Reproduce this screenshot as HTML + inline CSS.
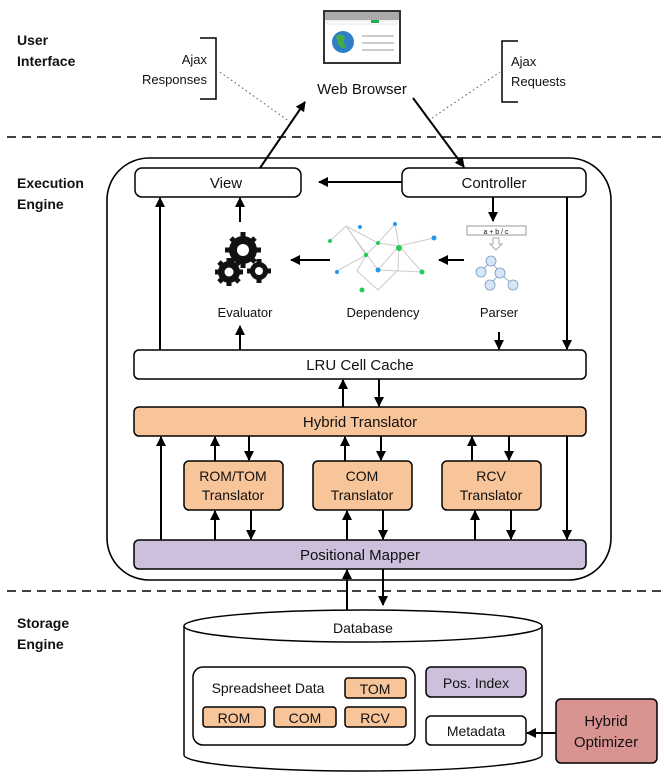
<!DOCTYPE html>
<html><head><meta charset="utf-8"><style>
html,body{margin:0;padding:0;background:#fff;width:664px;height:783px;overflow:hidden}
svg text{font-family:"Liberation Sans",sans-serif;fill:#111}
</style></head><body>
<svg width="664" height="783" viewBox="0 0 664 783" xmlns="http://www.w3.org/2000/svg">
<defs>
<marker id="a" viewBox="0 0 10 10" refX="9" refY="5" markerWidth="10" markerHeight="10" markerUnits="userSpaceOnUse" orient="auto"><path d="M0,0 L10,5 L0,10 z" fill="#000"/></marker>
</defs>
<g font-size="14" font-weight="bold">
<text x="17" y="45">User</text><text x="17" y="66">Interface</text>
<text x="17" y="188">Execution</text><text x="17" y="209">Engine</text>
<text x="17" y="628">Storage</text><text x="17" y="649">Engine</text>
</g>
<line x1="7" y1="137" x2="664" y2="137" stroke="#000" stroke-width="1.5" stroke-dasharray="9,6"/>
<line x1="7" y1="591" x2="664" y2="591" stroke="#000" stroke-width="1.5" stroke-dasharray="9,6"/>
<!-- browser icon -->
<rect x="324" y="11" width="76" height="52" fill="#fff" stroke="#333" stroke-width="2"/>
<rect x="325" y="12" width="74" height="8" fill="#aaa"/>
<rect x="327" y="21" width="70" height="3" fill="#fff" stroke="#ccc" stroke-width=".5"/>
<rect x="371" y="20" width="8" height="3" fill="#2a5"/>
<circle cx="343" cy="42" r="11" fill="#2d7fc8"/><path d="M336,36 q6,-4 9,2 q-3,5 2,9 q-5,3 -9,-3z" fill="#4a4"/>
<line x1="362" y1="36" x2="394" y2="36" stroke="#bbb" stroke-width="1.5"/><line x1="362" y1="43" x2="394" y2="43" stroke="#bbb" stroke-width="1.5"/><line x1="362" y1="50" x2="394" y2="50" stroke="#bbb" stroke-width="1.5"/>
<text x="362" y="94" font-size="15" text-anchor="middle">Web Browser</text>
<path d="M200,38 h16 v61 h-16" fill="none" stroke="#000" stroke-width="1.5"/>
<text x="207" y="64" font-size="13" text-anchor="end">Ajax</text><text x="207" y="84" font-size="13" text-anchor="end">Responses</text>
<path d="M518,41 h-16 v61 h16" fill="none" stroke="#000" stroke-width="1.5"/>
<text x="511" y="66" font-size="13">Ajax</text><text x="511" y="86" font-size="13">Requests</text>
<line x1="220" y1="72" x2="290" y2="122" stroke="#555" stroke-dasharray="1.5,3"/>
<line x1="432" y1="118" x2="500" y2="72" stroke="#555" stroke-dasharray="1.5,3"/>
<g stroke="#000" stroke-width="2" fill="none" marker-end="url(#a)">
<line x1="260" y1="168" x2="305" y2="102"/>
<line x1="413" y1="98" x2="464" y2="167"/>
</g>
<rect x="107" y="158" width="504" height="422" rx="42" fill="none" stroke="#000" stroke-width="1.6"/>
<g stroke="#000" stroke-width="1.5">
<rect x="135" y="168" width="166" height="29" rx="7" fill="#fff"/>
<rect x="402" y="168" width="184" height="29" rx="7" fill="#fff"/>
<rect x="134" y="350" width="452" height="29" rx="5" fill="#fff"/>
<rect x="134" y="407" width="452" height="29" rx="5" fill="#f8c49a"/>
<rect x="184" y="461" width="99" height="49" rx="5" fill="#f8c49a"/>
<rect x="313" y="461" width="99" height="49" rx="5" fill="#f8c49a"/>
<rect x="442" y="461" width="99" height="49" rx="5" fill="#f8c49a"/>
<rect x="134" y="540" width="452" height="29" rx="5" fill="#cdc0dc"/>
</g>
<g font-size="15" text-anchor="middle">
<text x="226" y="188">View</text><text x="494" y="188">Controller</text>
<text x="360" y="370">LRU Cell Cache</text><text x="360" y="427">Hybrid Translator</text>
<text x="360" y="560">Positional Mapper</text>
</g>
<g font-size="14" text-anchor="middle">
<text x="233" y="481">ROM/TOM</text><text x="233" y="500">Translator</text>
<text x="362" y="481">COM</text><text x="362" y="500">Translator</text>
<text x="491" y="481">RCV</text><text x="491" y="500">Translator</text>
<text x="245" y="317" font-size="13">Evaluator</text><text x="383" y="317" font-size="13">Dependency</text><text x="499" y="317" font-size="13">Parser</text>
</g>
<!-- gears -->
<g fill="#111">
<circle cx="243" cy="250" r="14"/><circle cx="229" cy="272" r="11"/><circle cx="259" cy="271" r="9"/>
<g stroke="#111" stroke-width="5"><line x1="243" y1="232" x2="243" y2="268"/><line x1="225" y1="250" x2="261" y2="250"/><line x1="231" y1="238" x2="255" y2="262"/><line x1="255" y1="238" x2="231" y2="262"/>
<line x1="229" y1="258" x2="229" y2="286"/><line x1="215" y1="272" x2="243" y2="272"/><line x1="219" y1="262" x2="239" y2="282"/><line x1="239" y1="262" x2="219" y2="282"/>
<line x1="259" y1="259" x2="259" y2="283"/><line x1="247" y1="271" x2="271" y2="271"/></g>
<circle cx="243" cy="250" r="6" fill="#fff"/><circle cx="229" cy="272" r="4.5" fill="#fff"/><circle cx="259" cy="271" r="4" fill="#fff"/>
</g>
<!-- network -->
<g stroke="#ccc" stroke-width="1">
<polyline points="330,241 346,226 378,243 399,246 434,238" fill="none"/>
<polyline points="346,226 366,255 357,271 378,290 398,270 399,246 395,224 378,243 366,255 337,271" fill="none"/>
<polyline points="346,226 378,270 422,272 399,246 378,270" fill="none"/>
</g>
<g fill="#2c5">
<circle cx="330" cy="241" r="2"/><circle cx="366" cy="255" r="2.2"/><circle cx="378" cy="243" r="2"/><circle cx="399" cy="248" r="3"/><circle cx="422" cy="272" r="2.5"/><circle cx="362" cy="290" r="2.5"/>
</g>
<g fill="#29e"><circle cx="360" cy="227" r="2"/><circle cx="395" cy="224" r="2"/><circle cx="434" cy="238" r="2.5"/><circle cx="337" cy="272" r="2"/><circle cx="378" cy="270" r="2.5"/></g>
<!-- parser -->
<rect x="467" y="226" width="59" height="9" fill="#fff" stroke="#999"/>
<text x="496" y="234" font-size="7" text-anchor="middle" font-family="Liberation Mono">a + b / c</text>
<path d="M493,238 h6 v6 h3 l-6,6 l-6,-6 h3z" fill="#fff" stroke="#aaa"/>
<g stroke="#7a9ac0" stroke-width="0.8"><line x1="491" y1="261" x2="481" y2="272"/><line x1="491" y1="261" x2="500" y2="273"/><line x1="500" y1="273" x2="490" y2="285"/><line x1="500" y1="273" x2="513" y2="285"/></g>
<g fill="#d6e6f6" stroke="#7a9ac0" stroke-width="0.8"><circle cx="491" cy="261" r="5"/><circle cx="481" cy="272" r="5"/><circle cx="500" cy="273" r="5"/><circle cx="490" cy="285" r="5"/><circle cx="513" cy="285" r="5"/></g>
<!-- arrows -->
<g stroke="#000" stroke-width="2" fill="none" marker-end="url(#a)">
<line x1="402" y1="182" x2="319" y2="182"/>
<line x1="160" y1="350" x2="160" y2="198"/>
<line x1="240" y1="222" x2="240" y2="198"/>
<line x1="240" y1="350" x2="240" y2="326"/>
<line x1="493" y1="197" x2="493" y2="221"/>
<line x1="567" y1="197" x2="567" y2="349"/>
<line x1="499" y1="332" x2="499" y2="349"/>
<line x1="330" y1="260" x2="291" y2="260"/>
<line x1="464" y1="260" x2="439" y2="260"/>
<line x1="343" y1="407" x2="343" y2="380"/>
<line x1="379" y1="379" x2="379" y2="406"/>
<line x1="161" y1="540" x2="161" y2="437"/>
<line x1="567" y1="436" x2="567" y2="539"/>
<line x1="215" y1="461" x2="215" y2="437"/><line x1="249" y1="436" x2="249" y2="460"/>
<line x1="345" y1="461" x2="345" y2="437"/><line x1="381" y1="436" x2="381" y2="460"/>
<line x1="472" y1="461" x2="472" y2="437"/><line x1="509" y1="436" x2="509" y2="460"/>
<line x1="215" y1="540" x2="215" y2="511"/><line x1="251" y1="510" x2="251" y2="539"/>
<line x1="347" y1="540" x2="347" y2="511"/><line x1="383" y1="510" x2="383" y2="539"/>
<line x1="475" y1="540" x2="475" y2="511"/><line x1="511" y1="510" x2="511" y2="539"/>
<line x1="347" y1="610" x2="347" y2="570"/>
<line x1="383" y1="569" x2="383" y2="605"/>
</g>
<!-- database -->
<path d="M184,626 V755 A179,16 0 0 0 542,755 V626" fill="#fff" stroke="#000" stroke-width="1.5"/>
<ellipse cx="363" cy="626" rx="179" ry="16" fill="#fff" stroke="#000" stroke-width="1.5"/>
<text x="363" y="633" font-size="14" text-anchor="middle">Database</text>
<g stroke="#000" stroke-width="1.5">
<rect x="193" y="667" width="222" height="78" rx="10" fill="#fff"/>
<rect x="345" y="678" width="61" height="20" rx="3" fill="#f8c49a"/>
<rect x="203" y="707" width="62" height="20" rx="3" fill="#f8c49a"/>
<rect x="274" y="707" width="62" height="20" rx="3" fill="#f8c49a"/>
<rect x="345" y="707" width="61" height="20" rx="3" fill="#f8c49a"/>
<rect x="426" y="667" width="100" height="30" rx="5" fill="#cdc0dc"/>
<rect x="426" y="716" width="100" height="29" rx="5" fill="#fff"/>
<rect x="556" y="699" width="101" height="64" rx="5" fill="#d99390"/>
</g>
<g font-size="14" text-anchor="middle">
<text x="268" y="693">Spreadsheet Data</text>
<text x="375" y="694">TOM</text><text x="234" y="723">ROM</text><text x="305" y="723">COM</text><text x="375" y="723">RCV</text>
<text x="476" y="688">Pos. Index</text><text x="476" y="736">Metadata</text>
<text x="606" y="726" font-size="15">Hybrid</text><text x="606" y="747" font-size="15">Optimizer</text>
</g>
<line x1="556" y1="733" x2="527" y2="733" stroke="#000" stroke-width="2" marker-end="url(#a)"/>
</svg>
</body></html>
